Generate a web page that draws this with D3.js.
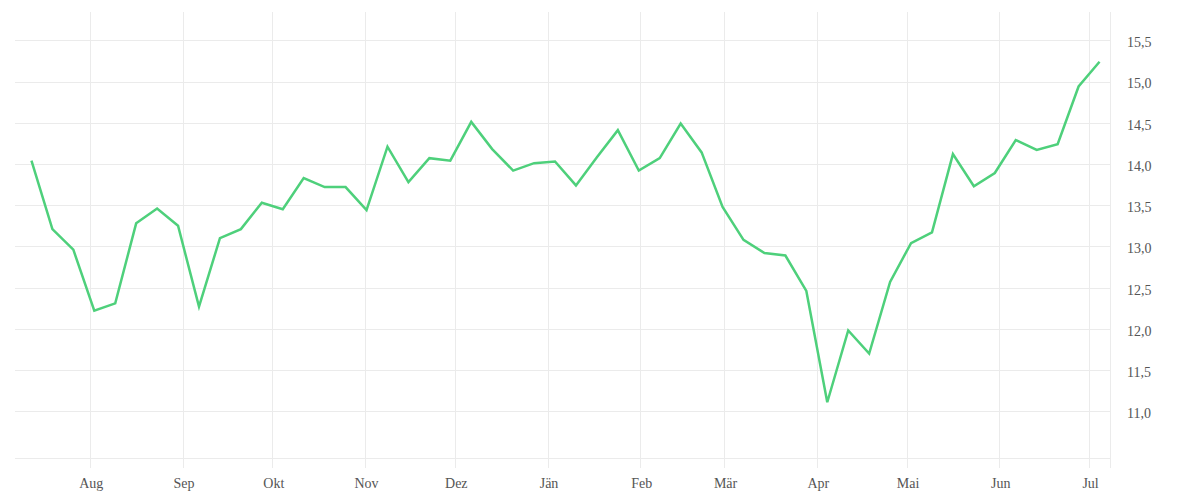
<!DOCTYPE html>
<html lang="de">
<head>
    <meta charset="UTF-8">
    <title>Line chart</title>
    <script src="https://d3js.org/d3.v7.min.js"></script>
    <style>
        body { margin: 0; background: #fff; }
        text { font-family: "Liberation Serif", "DejaVu Serif", serif; font-size: 14px; fill: #555; }
    </style>
</head>
<body>
<svg width="1200" height="500"></svg>
<script>

    // weekly observations
    var dates = [
        "2022-07-12", "2022-07-19", "2022-07-26",
        "2022-08-02", "2022-08-09", "2022-08-16", "2022-08-23", "2022-08-30",
        "2022-09-06", "2022-09-13", "2022-09-20", "2022-09-27",
        "2022-10-04", "2022-10-11", "2022-10-18", "2022-10-25",
        "2022-11-01", "2022-11-08", "2022-11-15", "2022-11-22", "2022-11-29",
        "2022-12-06", "2022-12-13", "2022-12-20", "2022-12-27",
        "2023-01-03", "2023-01-10", "2023-01-17", "2023-01-24", "2023-01-31",
        "2023-02-07", "2023-02-14", "2023-02-21", "2023-02-28",
        "2023-03-07", "2023-03-14", "2023-03-21", "2023-03-28",
        "2023-04-04", "2023-04-11", "2023-04-18", "2023-04-25",
        "2023-05-02", "2023-05-09", "2023-05-16", "2023-05-23", "2023-05-30",
        "2023-06-06", "2023-06-13", "2023-06-20", "2023-06-27",
        "2023-07-04"
    ];

    var values = [
        14.04, 13.21, 12.96,
        12.22, 12.31, 13.28, 13.46, 13.25,
        12.27, 13.10, 13.21, 13.53,
        13.45, 13.83, 13.72, 13.72,
        13.44, 14.21, 13.78, 14.07, 14.04,
        14.51, 14.18, 13.92, 14.01,
        14.03, 13.74, 14.08, 14.41, 13.92,
        14.07, 14.49, 14.14, 13.48,
        13.08, 12.92, 12.89, 12.46,
        11.11, 11.98, 11.70, 12.57,
        13.04, 13.17, 14.12, 13.73, 13.89,
        14.29, 14.17, 14.24, 14.94,
        15.24
    ];

    var yTicks = [11.0, 11.5, 12.0, 12.5, 13.0, 13.5, 14.0, 14.5, 15.0, 15.5];
    var monthNames = ["Jän", "Feb", "Mär", "Apr", "Mai", "Jun",
                      "Jul", "Aug", "Sep", "Okt", "Nov", "Dez"];

    var parse = d3.timeParse("%Y-%m-%d");
    var data = dates.map(function (d, i) {
        return { date: parse(d), value: values[i] };
    });

    var plotLeft = 15, plotRight = 1110, plotTop = 12, plotBottom = 458;

    var x = d3.scaleTime()
        .domain([parse("2022-07-07"), parse("2023-07-08")])
        .range([plotLeft, plotRight]);

    var y = d3.scaleLinear()
        .domain([10.434, 15.843])
        .range([plotBottom, plotTop]);

    var canvas = d3.select("svg");
    var gridColor = "#ebebeb";
    var labelFont = "'Liberation Serif', 'DejaVu Serif', serif";

    var months = d3.timeMonth.range(parse("2022-08-01"), parse("2023-07-02"));

    // vertical grid (months)
    canvas.append("g")
        .selectAll("line")
        .data(months)
        .enter()
        .append("line")
        .attr("x1", function (d) { return Math.round(x(d)) + 0.5; })
        .attr("x2", function (d) { return Math.round(x(d)) + 0.5; })
        .attr("y1", plotTop)
        .attr("y2", plotBottom + 10)
        .attr("stroke", gridColor);

    // horizontal grid
    canvas.append("g")
        .selectAll("line")
        .data(yTicks)
        .enter()
        .append("line")
        .attr("x1", plotLeft)
        .attr("x2", plotRight)
        .attr("y1", function (d) { return Math.round(y(d)) + 0.5; })
        .attr("y2", function (d) { return Math.round(y(d)) + 0.5; })
        .attr("stroke", gridColor);

    // bottom and right border lines
    canvas.append("line")
        .attr("x1", plotLeft).attr("x2", plotRight)
        .attr("y1", plotBottom + 0.5).attr("y2", plotBottom + 0.5)
        .attr("stroke", gridColor);
    canvas.append("line")
        .attr("x1", plotRight + 0.5).attr("x2", plotRight + 0.5)
        .attr("y1", plotTop).attr("y2", plotBottom + 10)
        .attr("stroke", gridColor);

    // x labels via axis
    var xAxis = d3.axisBottom(x)
        .tickValues(months)
        .tickSize(0)
        .tickPadding(0)
        .tickFormat(function (d) { return monthNames[d.getMonth()]; });

    var gx = canvas.append("g")
        .attr("transform", "translate(1," + (plotBottom + 20) + ")")
        .call(xAxis);
    gx.select(".domain").remove();
    gx.selectAll("text").attr("fill", "#555").style("font-size", "14px")
        .style("font-family", labelFont);

    // y labels via axis
    var yAxis = d3.axisRight(y)
        .tickValues(yTicks)
        .tickSize(0)
        .tickPadding(0)
        .tickFormat(function (d) { return d3.format(".1f")(d).replace(".", ","); });

    var gy = canvas.append("g")
        .attr("transform", "translate(" + (plotRight + 17) + ",2)")
        .call(yAxis);
    gy.select(".domain").remove();
    gy.selectAll("text").attr("fill", "#555").style("font-size", "14px")
        .style("font-family", labelFont);

    // the line (points sit around midday of each date)
    var line = d3.line()
        .x(function (d) { return x(d3.timeHour.offset(d.date, 12)); })
        .y(function (d) { return y(d.value); });

    canvas.append("path")
        .datum(data)
        .attr("d", line)
        .attr("fill", "none")
        .attr("stroke", "#4ed07b")
        .attr("stroke-width", 2.5)
        .attr("stroke-linejoin", "miter");

</script>
</body>
</html>
